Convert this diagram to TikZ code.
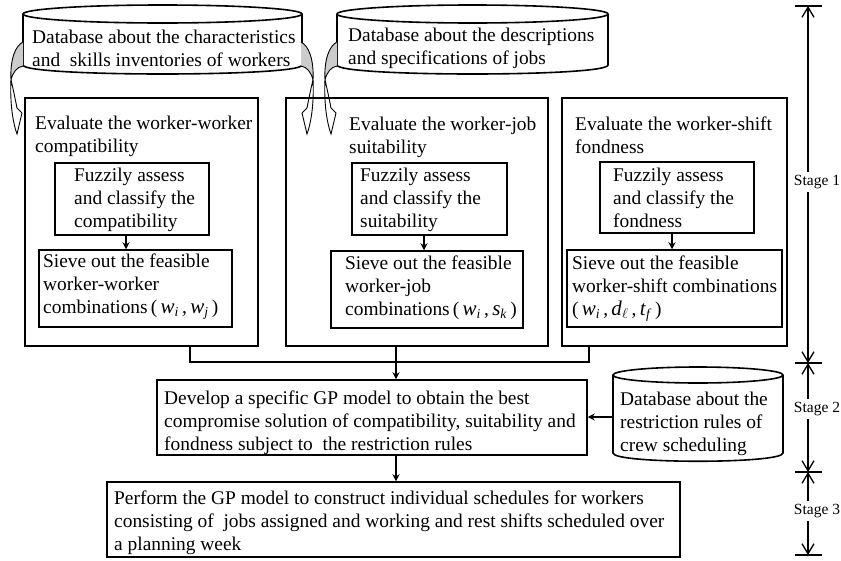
\documentclass[tikz,border=0pt]{standalone}
\usepackage{fontspec}
\setmainfont{Liberation Serif}
\usetikzlibrary{arrows.meta}
\newcommand\myvar[2]{{\fontsize{21}{23}\selectfont\textit{#1}}\textsubscript{\textit{#2}}}
\newcommand\bendarrow[2]{%
\begin{scope}[shift={(#1,0)}, xscale=#2]
\filldraw[fill=black!20, line width=0.9pt] (0,42) .. controls (8,46) and (13,60) .. (12,80) .. controls (10,72) and (6,67) .. (0,66);
\draw[line width=0.9pt] (12,80) .. controls (13,100) and (11,120) .. (6,134) -- (1,113) -- (6,108) .. controls (8,98) and (10,88) .. (12,80);
\end{scope}}
\begin{document}
\begin{tikzpicture}[x=1pt,y=-1pt,
  box/.style={draw, line width=1.5pt, inner sep=0pt},
  txt/.style={font=\fontsize{19.4}{23}\selectfont, align=left, inner sep=0pt, anchor=west},
  cyl/.style={line width=1.6pt},
  arr/.style={line width=1.3pt, -{Stealth[length=7pt,width=7pt]}},
  conn/.style={line width=1.4pt},
  stg/.style={font=\fontsize{15.5}{17}\selectfont, inner sep=3pt},
  sarr/.style={line width=1.3pt, -{Straight Barb[length=10pt,width=12pt]}},
  bar/.style={line width=1.3pt}]
\useasboundingbox (0,0) rectangle (841,560);

% databases
\draw[cyl] (23,14) -- (23,65) .. controls (23,77) and (302,77) .. (302,65) -- (302,14);
\draw[cyl] (162.5,14) ellipse [x radius=139.5pt, y radius=9pt];
\node[txt] (d1t) at (32,48.5) {Database about the characteristics\\and~ skills inventories of workers};

\draw[cyl] (337,14) -- (337,65) .. controls (337,77) and (608,77) .. (608,65) -- (608,14);
\draw[cyl] (472.5,14) ellipse [x radius=135.5pt, y radius=9pt];
\node[txt] (d2t) at (348,48.5) {Database about the descriptions\\and specifications of jobs};

\draw[cyl] (613,375) -- (613,453) .. controls (613,464) and (783,464) .. (783,453) -- (783,375);
\draw[cyl] (698,375) ellipse [x radius=85pt, y radius=8pt];
\node[txt] (d3t) at (620,424) {Database about the\\restriction rules of\\crew scheduling};
\coordinate (db3w) at (613,417);

% stage 1 boxes
\node[box, minimum width=233pt, minimum height=248pt] (b1) at (141.5,222) {};
\node[box, minimum width=262pt, minimum height=248pt] (b2) at (417,222) {};
\node[box, minimum width=225pt, minimum height=248pt] (b3) at (674.5,222) {};

\node[txt] (b1t) at (35,136) {Evaluate the worker-worker\\compatibility};
\node[txt] (b2t) at (349,137) {Evaluate the worker-job\\suitability};
\node[txt] (b3t) at (575,135) {Evaluate the worker-shift\\fondness};

\node[box, minimum width=154pt, minimum height=72pt] (f1) at (132,199) {};
\node[box, minimum width=155pt, minimum height=72pt] (f2) at (429.5,199) {};
\node[box, minimum width=154pt, minimum height=71pt] (f3) at (677,197.5) {};
\node[txt] (f1t) at (74,199.5) {Fuzzily assess\\and classify the\\compatibility};
\node[txt] (f2t) at (360,199.5) {Fuzzily assess\\and classify the\\suitability};
\node[txt] (f3t) at (613,198) {Fuzzily assess\\and classify the\\fondness};

\node[box, minimum width=193pt, minimum height=77pt] (s1) at (135.5,288.5) {};
\node[box, minimum width=192pt, minimum height=77pt] (s2) at (427,289.5) {};
\node[box, minimum width=215pt, minimum height=77pt] (s3) at (674.5,288.5) {};
\node[txt] (s1t) at (43,287) {Sieve out the feasible\\worker-worker\\combinations\,(\,\myvar{w}{i}\,,\,\myvar{w}{j}\,)};
\node[txt] (s2t) at (345,288) {Sieve out the feasible\\worker-job\\combinations\,(\,\myvar{w}{i}\,,\,\myvar{s}{k}\,)};
\node[txt] (s3t) at (572,289) {Sieve out the feasible\\worker-shift combinations\\(\,\myvar{w}{i}\,,\,{\fontsize{21}{23}\selectfont\textit{d}}\textsubscript{$\ell$}\,,\,\myvar{t}{f}\,)};

\coordinate (a1) at (126,0);
\coordinate (a2) at (424,0);
\coordinate (a3) at (672,0);
\draw[arr] (f1.south -| a1) -- (s1.north -| a1);
\draw[arr] (f2.south -| a2) -- (s2.north -| a2);
\draw[arr] (f3.south -| a3) -- (s3.north -| a3);

% curved arrows
\bendarrow{23}{-1}
\bendarrow{301}{1}
\bendarrow{337}{-1}

% stage 2 and 3 boxes
\node[box, minimum width=430pt, minimum height=75pt] (dev) at (372,417.5) {};
\node[txt] (devt) at (164,423) {Develop a specific GP model to obtain the best\\compromise solution of compatibility, suitability and\\fondness subject to~ the restriction rules};
\node[box, minimum width=573pt, minimum height=75pt] (bot) at (393.5,519.5) {};
\node[txt] (bott) at (114,523) {Perform the GP model to construct individual schedules for workers\\consisting of~ jobs assigned and working and rest shifts scheduled over\\a planning week};

% connectors
\coordinate (c1) at (190,0);
\coordinate (c2) at (396,0);
\coordinate (c3) at (589,0);
\coordinate (jy) at (0,362);
\draw[conn] (b1.south -| c1) -- (c1 |- jy) -- (c3 |- jy) -- (b3.south -| c3);
\draw[arr] (b2.south -| c2) -- (dev.north -| c2);
\draw[arr] (dev.south -| c2) -- (bot.north -| c2);
\draw[arr] (db3w) -- (db3w -| dev.east);

% stages
\coordinate (t0) at (808,6);
\coordinate (t1) at (808,363);
\coordinate (t2) at (808,472);
\coordinate (t3) at (808,555);
\foreach \t in {t0,t1,t2,t3} \draw[bar] ([xshift=-13pt]\t) -- ([xshift=14pt]\t);
\node[stg] (st1) at (817,182) {Stage 1};
\node[stg] (st2) at (817,409) {Stage 2};
\node[stg] (st3) at (817,511) {Stage 3};
\draw[sarr] (st1.north -| t0) -- (t0);
\draw[sarr] (st1.south -| t0) -- (t1);
\draw[sarr] (st2.north -| t1) -- (t1);
\draw[sarr] (st2.south -| t1) -- (t2);
\draw[sarr] (st3.north -| t2) -- (t2);
\draw[sarr] (st3.south -| t2) -- (t3);
\end{tikzpicture}
\end{document}
